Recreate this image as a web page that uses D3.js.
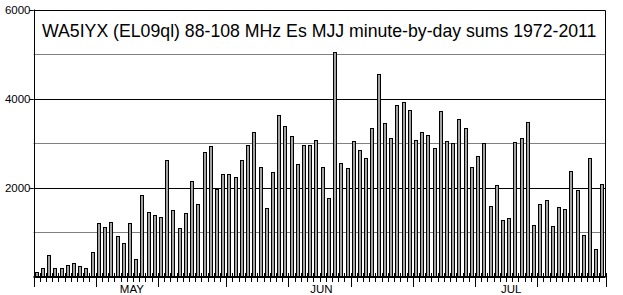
<!DOCTYPE html>
<html>
<head>
<meta charset="utf-8">
<script src="https://cdn.jsdelivr.net/npm/d3@7"></script>
<style>
  body { margin: 0; background: #fff; }
  svg { display: block; }
  text { font-family: "Liberation Sans", Arial, sans-serif; fill: #000; }
</style>
</head>
<body>
<div id="chart"></div>
<script>
// Data: minute-by-day sums, May 1 .. Jul 31
const mayValues = [120, 210, 500, 210, 210, 276, 315, 250, 210, 570,
    1220, 1130, 1240, 930, 770, 1220, 410, 1840, 1460, 1390,
    1350, 2630, 1500, 1100, 1440, 2160, 1640, 2810, 2945, 1985, 2315];
const junValues = [2315, 2250, 2635, 2970, 3260, 2476, 1558, 2365, 3642, 3396,
    3171, 2545, 2970, 2970, 3082, 2476, 1782, 5056, 2565, 2453,
    3059, 2855, 2675, 3351, 4562, 3463, 3126, 3867, 3934, 3750];
const julValues = [3078, 3254, 3187, 2896, 3724, 3052, 3007, 3545, 3343, 2470,
    2716, 3007, 1597, 2067, 1284, 1328, 3030, 3119, 3478, 1172,
    1642, 1731, 1149, 1575, 1530, 2381, 1955, 948, 2672, 634, 2090];
const months = ["MAY", "JUN", "JUL"];
const monthDays = [31, 30, 31];
const yLabels = [2000, 4000, 6000];
const gridValues = [1000, 2000, 3000, 4000, 5000, 6000];
const title = "WA5IYX (EL09ql) 88-108 MHz Es MJJ minute-by-day sums 1972-2011";

const values = mayValues.concat(junValues, julValues);
const days = d3.range(values.length);

const W = 623, H = 295;
const plotLeft = 33.5, plotRight = 605.5, plotTop = 9.5, base = 277;

const svg = d3.select('#chart').append('svg')
    .attr('width', W)
    .attr('height', H);

const x = d3.scaleLinear().domain([0, values.length]).range([plotLeft, plotRight]);
const y = d3.scaleLinear().domain([0, 6000]).range([base, plotTop]);

// gridlines
svg.append('g')
    .selectAll('line')
    .data(gridValues)
    .join('line')
    .attr('x1', plotLeft)
    .attr('x2', plotRight)
    .attr('y1', d => Math.round(y(d)) + 0.5)
    .attr('y2', d => Math.round(y(d)) + 0.5)
    .attr('stroke', d => d % 2000 === 0 ? '#000' : '#808080')
    .attr('stroke-width', 1);

// right frame
svg.append('line')
    .attr('x1', plotRight).attr('x2', plotRight)
    .attr('y1', Math.round(y(6000)) + 0.5).attr('y2', base)
    .attr('stroke', '#000');

// y labels with small ticks
const yl = svg.append('g');
yl.selectAll('line')
    .data(yLabels)
    .join('line')
    .attr('x1', plotLeft - 4).attr('x2', plotLeft)
    .attr('y1', d => Math.round(y(d)) + 0.5)
    .attr('y2', d => Math.round(y(d)) + 0.5)
    .attr('stroke', '#000');
yl.selectAll('text')
    .data(yLabels)
    .join('text')
    .attr('x', plotLeft - 3)
    .attr('y', d => y(d) + 4)
    .attr('text-anchor', 'end')
    .style('font-size', '11.5px')
    .text(d => d);

// bars
svg.append('g')
    .selectAll('rect')
    .data(days)
    .join('rect')
    .attr('x', d => Math.round(x(d) + 1.2) + 0.5)
    .attr('y', d => Math.round(y(values[d])) + 0.5)
    .attr('width', 3)
    .attr('height', d => base - Math.round(y(values[d])) - 0.5)
    .attr('fill', '#a4a4a4')
    .attr('stroke', '#000')
    .attr('stroke-width', 1);

// baseline
svg.append('line')
    .attr('x1', plotLeft).attr('x2', plotRight)
    .attr('y1', base).attr('y2', base)
    .attr('stroke', '#000')
    .attr('stroke-width', 2);

// day ticks; long ticks on 1st, 11th, 21st
const tickDays = [];
let start = 0;
monthDays.forEach(n => {
    for (let i = 0; i < n; i++) tickDays.push({ d: start + i, long: i === 0 || i === 10 || i === 20 });
    start += n;
});
tickDays.push({ d: start, long: true });

svg.append('g')
    .selectAll('line')
    .data(tickDays)
    .join('line')
    .attr('x1', t => Math.round(x(t.d)) + 0.5)
    .attr('x2', t => Math.round(x(t.d)) + 0.5)
    .attr('y1', t => t.d === 0 ? plotTop : base - 4)
    .attr('y2', t => t.long ? base + 10 : base + 5)
    .attr('stroke', '#000');

// month labels
let acc = 0;
const monthCenters = monthDays.map(n => { const c = acc + n / 2; acc += n; return c; });
svg.append('g')
    .selectAll('text')
    .data(months)
    .join('text')
    .attr('x', (d, i) => x(monthCenters[i]) + 2)
    .attr('y', 293)
    .attr('text-anchor', 'middle')
    .style('font-size', '11.5px')
    .text(d => d);

// title
svg.append('text')
    .attr('x', 42)
    .attr('y', 37)
    .style('font-size', '17.7px')
    .text(title);
</script>
</body>
</html>
